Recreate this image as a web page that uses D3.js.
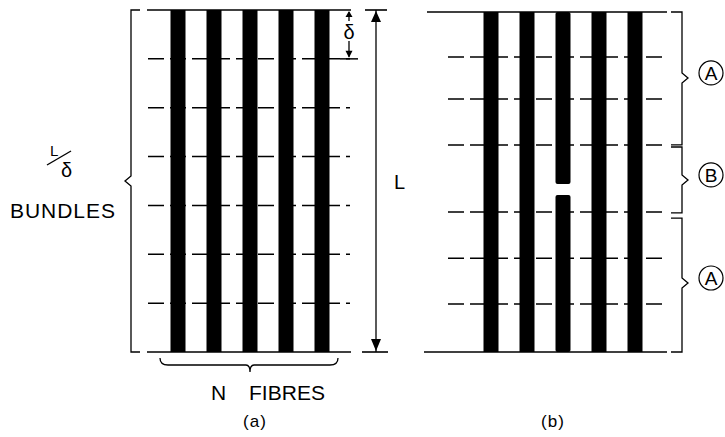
<!DOCTYPE html>
<html>
<head>
<meta charset="utf-8">
<script src="https://cdn.jsdelivr.net/npm/d3@7"></script>
<style>
  body { margin: 0; background: #fff; }
  text { font-family: "Liberation Sans", Arial, sans-serif; fill: #000; }
</style>
</head>
<body>
<div id="fig"></div>
<script>
// fibres across each bundle
const fibres = ["1", "2", "3", "4", "5"];
// (a) dashed bundle boundaries, in bundle lengths (delta), L = 7 delta
const bundleCountA = 7;
const bundleLinesA = [1, 2, 3, 4, 5, 6];
// (b) dashed bundle boundaries, in % of L
const bundleLinesB = [13.2, 25.6, 39.1, 58.8, 72.4, 85.9];
// (b) the broken fibre and where its break sits (% of L)
const brokenFibre = "3";
const breakB = [50.6, 53.8];
// (b) zone brackets: label, start, end, notch (% of L)
const zoneLabels = ["A", "B", "A"];
const zoneStart = [0, 39.7, 60.6];
const zoneEnd = [39.1, 59.1, 100];
const zoneNotch = [19.4, 49.4, 79.7];

const svg = d3.select("#fig").append("svg")
    .attr("width", 725)
    .attr("height", 437);

const fibreW = 15;

// ---------- panel (a) ----------
const yA = d3.scaleLinear().domain([0, bundleCountA]).range([10, 352]);
const xA = d3.scalePoint().domain(fibres).range([178, 322]);

const a = svg.append("g");

a.selectAll("rect.fibre")
    .data(fibres)
    .enter()
    .append("rect")
    .attr("x", d => xA(d) - fibreW / 2)
    .attr("y", yA(0))
    .attr("width", fibreW)
    .attr("height", yA(bundleCountA) - yA(0))
    .attr("fill", "#000");

a.selectAll("line.bundle")
    .data(bundleLinesA)
    .enter()
    .append("line")
    .attr("x1", 148).attr("x2", 350)
    .attr("y1", d => yA(d)).attr("y2", d => yA(d))
    .attr("stroke", "#000")
    .attr("stroke-width", 1.5)
    .attr("stroke-dasharray", "16,6");

// top / bottom solid lines
[0, bundleCountA].forEach(v => {
    a.append("line")
        .attr("x1", 147).attr("x2", 351)
        .attr("y1", yA(v)).attr("y2", yA(v))
        .attr("stroke", "#000").attr("stroke-width", 1.6);
});

// left bracket
const yMidA = (yA(0) + yA(bundleCountA)) / 2;
a.append("path")
    .attr("d", `M140,${yA(0)} H131 V${yMidA - 5} L125,${yMidA} L131,${yMidA + 5} V${yA(bundleCountA)} H140`)
    .attr("fill", "none").attr("stroke", "#000").attr("stroke-width", 1.3);

// L / delta label
a.append("text").attr("x", 50).attr("y", 156).attr("font-size", 15).text("L");
a.append("line").attr("x1", 47).attr("y1", 165).attr("x2", 71).attr("y2", 151)
    .attr("stroke", "#000").attr("stroke-width", 1.4);
a.append("text").attr("x", 61).attr("y", 177).attr("font-size", 20).text("δ");
a.append("text").attr("x", 10).attr("y", 218).attr("font-size", 21)
    .attr("textLength", 105).text("BUNDLES");

// delta dimension
const xd = 349;
a.append("line").attr("x1", xd).attr("x2", xd).attr("y1", yA(0) + 2).attr("y2", 21)
    .attr("stroke", "#000").attr("stroke-width", 1.3);
a.append("line").attr("x1", xd).attr("x2", xd).attr("y1", 41).attr("y2", yA(1) - 2)
    .attr("stroke", "#000").attr("stroke-width", 1.3);
a.append("path").attr("d", `M${xd},${yA(0) + 1} L${xd - 3.5},${yA(0) + 7} L${xd + 3.5},${yA(0) + 7} Z`);
a.append("path").attr("d", `M${xd},${yA(1) - 1} L${xd - 3.5},${yA(1) - 8} L${xd + 3.5},${yA(1) - 8} Z`);
a.append("line").attr("x1", 340).attr("x2", 358).attr("y1", yA(1)).attr("y2", yA(1))
    .attr("stroke", "#000").attr("stroke-width", 1.5);
a.append("text").attr("x", xd).attr("y", 39).attr("font-size", 20)
    .attr("text-anchor", "middle").text("δ");

// L dimension arrow
const xL = 376;
a.append("line").attr("x1", xL).attr("x2", xL).attr("y1", yA(0)).attr("y2", yA(bundleCountA))
    .attr("stroke", "#000").attr("stroke-width", 1.3);
a.append("line").attr("x1", 365).attr("x2", 387).attr("y1", yA(0)).attr("y2", yA(0))
    .attr("stroke", "#000").attr("stroke-width", 1.6);
a.append("line").attr("x1", 362).attr("x2", 388).attr("y1", yA(bundleCountA)).attr("y2", yA(bundleCountA))
    .attr("stroke", "#000").attr("stroke-width", 1.6);
a.append("path").attr("d", `M${xL},${yA(0) + 1} L${xL - 5},${yA(0) + 12} L${xL + 5},${yA(0) + 12} Z`);
a.append("path").attr("d", `M${xL},${yA(bundleCountA) - 1} L${xL - 5},${yA(bundleCountA) - 13} L${xL + 5},${yA(bundleCountA) - 13} Z`);
a.append("text").attr("x", 394).attr("y", yMidA + 8).attr("font-size", 20).text("L");

// bottom brace
const braceY = 358;
a.append("path")
    .attr("d", `M160,${braceY} Q160,${braceY + 7} 168,${braceY + 7} H${xA("3") - 4} Q${xA("3")},${braceY + 7} ${xA("3")},${braceY + 14} Q${xA("3")},${braceY + 7} ${xA("3") + 4},${braceY + 7} H330 Q338,${braceY + 7} 338,${braceY}`)
    .attr("fill", "none").attr("stroke", "#000").attr("stroke-width", 1.3);
a.append("text").attr("x", 211).attr("y", 400).attr("font-size", 21).text("N");
a.append("text").attr("x", 249).attr("y", 400).attr("font-size", 21)
    .attr("textLength", 76).text("FIBRES");
a.append("text").attr("x", 255).attr("y", 427).attr("font-size", 17)
    .attr("text-anchor", "middle").attr("letter-spacing", 1).text("(a)");

// ---------- panel (b) ----------
const yB = d3.scaleLinear().domain([0, 100]).range([12, 352]);
const xB = d3.scalePoint().domain(fibres).range([491, 635]);

const b = svg.append("g");

// fibres, the broken one drawn as two pieces
const pieces = [];
fibres.forEach(f => {
    if (f === brokenFibre) {
        pieces.push({ f: f, from: 0, to: breakB[0], broken: true });
        pieces.push({ f: f, from: breakB[1], to: 100, broken: true });
    } else {
        pieces.push({ f: f, from: 0, to: 100 });
    }
});
b.selectAll("rect.fibre")
    .data(pieces)
    .enter()
    .append("rect")
    .attr("x", d => xB(d.f) - fibreW / 2)
    .attr("y", d => yB(d.from))
    .attr("width", fibreW)
    .attr("height", d => yB(d.to) - yB(d.from))
    .attr("rx", d => d.broken ? 2 : 0)
    .attr("fill", "#000");

b.selectAll("line.bundle")
    .data(bundleLinesB)
    .enter()
    .append("line")
    .attr("x1", 448).attr("x2", 666)
    .attr("y1", d => yB(d)).attr("y2", d => yB(d))
    .attr("stroke", "#000")
    .attr("stroke-width", 1.5)
    .attr("stroke-dasharray", "16,6");

b.append("line").attr("x1", 427).attr("x2", 667).attr("y1", yB(0)).attr("y2", yB(0))
    .attr("stroke", "#000").attr("stroke-width", 1.6);
b.append("line").attr("x1", 424).attr("x2", 667).attr("y1", yB(100)).attr("y2", yB(100))
    .attr("stroke", "#000").attr("stroke-width", 1.6);

// zone brackets with circled labels
const xBr = 682;
zoneLabels.forEach((lab, i) => {
    const y0 = yB(zoneStart[i]), y1 = yB(zoneEnd[i]), yn = yB(zoneNotch[i]);
    b.append("path")
        .attr("d", `M671,${y0} H${xBr} V${yn - 5} L${xBr + 6},${yn} L${xBr},${yn + 5} V${y1} H671`)
        .attr("fill", "none").attr("stroke", "#000").attr("stroke-width", 1.3);
    const cy = yn - 5;
    b.append("circle").attr("cx", 711).attr("cy", cy).attr("r", 12)
        .attr("fill", "none").attr("stroke", "#000").attr("stroke-width", 1.2);
    b.append("text").attr("x", 711).attr("y", cy + 7).attr("font-size", 19)
        .attr("text-anchor", "middle").text(lab);
});

b.append("text").attr("x", 553).attr("y", 427).attr("font-size", 17)
    .attr("text-anchor", "middle").attr("letter-spacing", 1).text("(b)");
</script>
</body>
</html>
